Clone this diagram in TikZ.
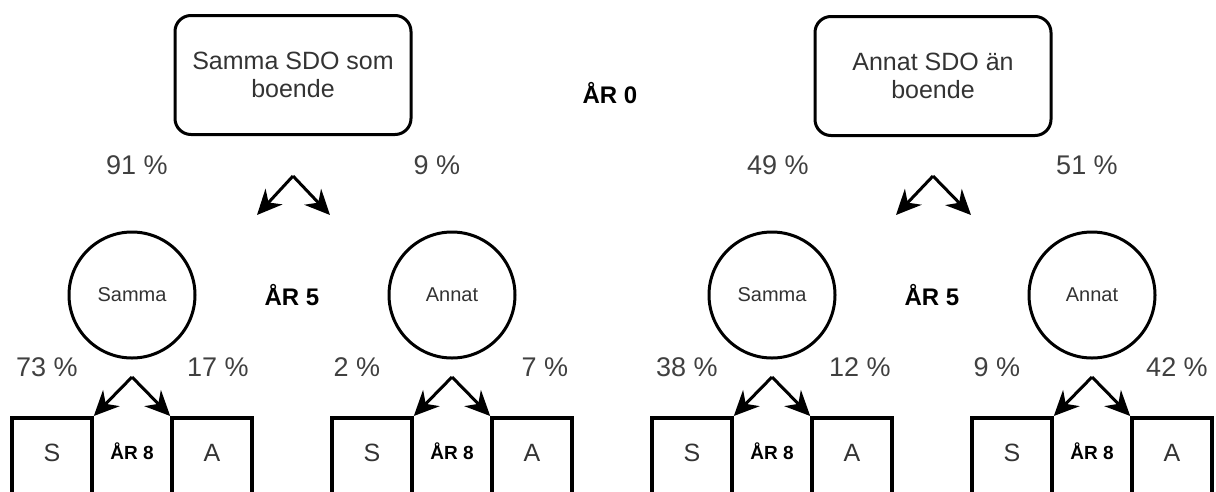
\documentclass[tikz,border=0pt]{standalone}
\usepackage{fontspec}
\setmainfont{Liberation Sans}
\usetikzlibrary{arrows.meta}

\begin{document}
\begin{tikzpicture}[x=1pt, y=-1pt,
  start/.style={draw, rounded corners=16pt, line width=3pt, minimum width=236pt, minimum height=119pt, align=center, font=\fontsize{25}{28}\selectfont, text=black!80},
  yr/.style={font=\bfseries\fontsize{24}{28}\selectfont},
  yrsmall/.style={font=\bfseries\fontsize{19}{22}\selectfont},
  pct/.style={font=\fontsize{27}{30}\selectfont, text=black!75},
  mid/.style={circle, draw, line width=3pt, minimum size=126pt, inner sep=0pt, font=\fontsize{20}{24}\selectfont, text=black!80},
  final/.style={draw, line width=3.6pt, minimum width=80pt, minimum height=120pt, anchor=north, inner sep=0pt},
  letter/.style={font=\fontsize{25}{28}\selectfont, text=black!80},
  branch/.style={line width=3pt, -{Stealth[length=25pt, width=23pt, inset=8pt]}}]
  \useasboundingbox (0,0) rectangle (1216,491);
  \clip (0,0) rectangle (1216,491);
  % year 0
  \node[start] (same) at (293,75) {Samma SDO som\\boende};
  \node[start] (other) at (933,76) {Annat SDO än\\boende};
  \node[yr] (yr0) at (610,93) {ÅR 0};
  \node[pct] (p91) at (137,165) {91 \%};
  \node[pct] (p9) at (437,165) {9 \%};
  \node[pct] (p49) at (778,165) {49 \%};
  \node[pct] (p51) at (1087,165) {51 \%};
  \coordinate (forkl) at (293,176);
  \coordinate (forkll) at (257,215);
  \coordinate (forklr) at (330,215);
  \coordinate (forkr) at (933,176);
  \coordinate (forkrl) at (896,215);
  \coordinate (forkrr) at (971,215);
  \draw[branch] (forkl) -- (forkll);
  \draw[branch] (forkl) -- (forklr);
  \draw[branch] (forkr) -- (forkrl);
  \draw[branch] (forkr) -- (forkrr);
  % year 5
  \node[mid] (c0) at (132,295) {Samma};
  \node[mid] (c1) at (452,295) {Annat};
  \node[mid] (c2) at (772,295) {Samma};
  \node[mid] (c3) at (1092,295) {Annat};
  \node[yr] (yr5l) at (292,295) {ÅR 5};
  \node[yr] (yr5r) at (932,295) {ÅR 5};
  % year 8
  \foreach \k/\l/\lx/\r/\rx in {0/73/47/17/218, 1/2/357/7/545, 2/38/687/12/860, 3/9/997/42/1177} {
    \node[final] (s\k) at (52+320*\k,416) {};
    \node[final] (a\k) at (212+320*\k,416) {};
    \node[letter] (sl\k) at (52+320*\k,453) {S};
    \node[letter] (al\k) at (212+320*\k,453) {A};
    \node[yrsmall] (y8\k) at (132+320*\k,451) {ÅR 8};
    \node[pct] (pl\k) at (\lx,367) {\l\ \%};
    \node[pct] (pr\k) at (\rx,367) {\r\ \%};
    \coordinate (fork\k) at (132+320*\k,377);
    \draw[branch] (fork\k) -- (s\k.north east);
    \draw[branch] (fork\k) -- (a\k.north west);
  }
\end{tikzpicture}
\end{document}
